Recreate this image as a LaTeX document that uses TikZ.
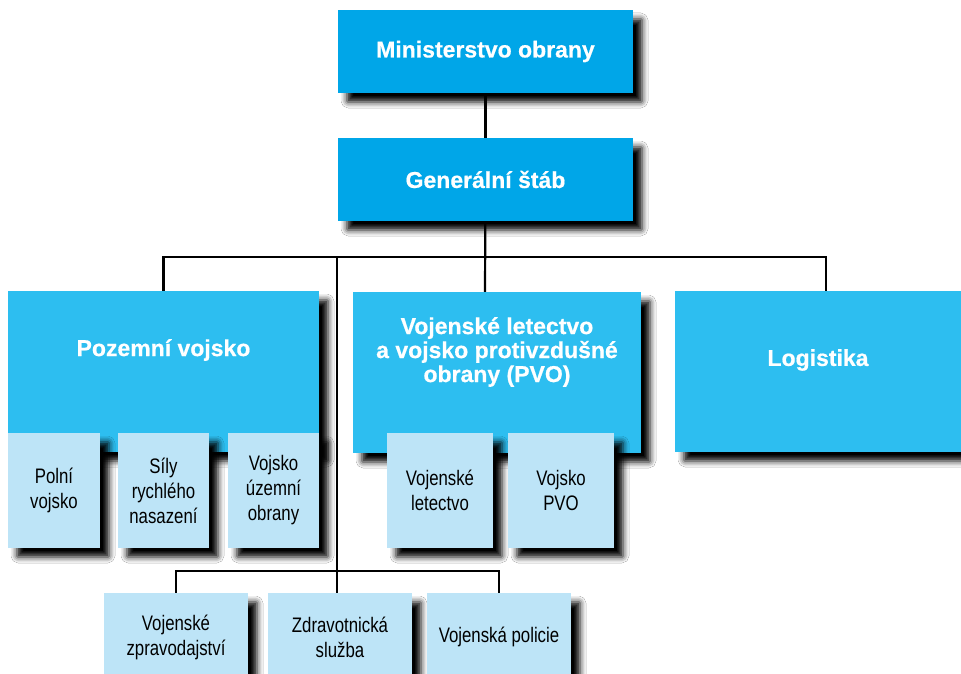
\documentclass[tikz,border=0pt]{standalone}
\usepackage{fontspec}
\setmainfont{Liberation Sans}
\newfontfamily\narrowfont{Liberation Sans}[FakeStretch=0.8]
\newfontfamily\titlefont{Liberation Sans Bold}[FakeBold=0.6]
\usetikzlibrary{shadows.blur}
\definecolor{topblue}{HTML}{00A6E8}
\definecolor{midblue}{HTML}{2DBEF0}
\definecolor{lightblue}{HTML}{BDE4F7}
\tikzset{
 box/.style={rectangle, inner sep=0pt, blur shadow={shadow xshift=9pt, shadow yshift=-9pt, shadow blur radius=6pt, shadow opacity=100, shadow blur extra rounding=1pt}},
 topbox/.style={box, fill=topblue, minimum width=295pt, minimum height=83pt},
 bigbox/.style={box, fill=midblue, minimum height=161pt},
 subbox/.style={box, fill=lightblue, minimum height=115pt, subtext},
 botbox/.style={box, fill=lightblue, minimum height=88pt, minimum width=144pt, subtext},
 title/.style={text=white, font=\titlefont\fontsize{23}{24}\selectfont, align=center},
 subtext/.style={font=\narrowfont\fontsize{21}{25}\selectfont, align=center, text=black},
 link/.style={line width=2.2pt, black}
}
\begin{document}
\begin{tikzpicture}[x=1pt, y=-1pt]
\useasboundingbox[fill=white] (0,0) rectangle (961,674);
% coordinates for the bus lines
\coordinate (bus) at (485,257);
\coordinate (busL) at (337,257);
\coordinate (bus2) at (337,571);
\coordinate (lgtop) at (826,291);
\coordinate (vltop) at (485,292);
% lines (drawn first, behind boxes)
\draw[link] (485.5,51.5) coordinate (mocenter) -- (485.5,179.5) coordinate (gscenter);
\draw[link] (gscenter) -- (vltop);
\draw[link] (163.5,291) coordinate (pztop) |- (bus) -| (lgtop);
\draw[link] (busL) -- (bus2);
\draw[link] (176,593) coordinate (vztop) |- (bus2) -| (499,593) coordinate (vptop);
\draw[link] (bus2) -- (337,593) coordinate (zstop);
% top boxes
\node[topbox, title] (mo) at (mocenter) {Ministerstvo obrany};
\node[topbox, title] (gs) at (gscenter) {Generální štáb};
% big boxes
\node[bigbox, minimum width=311pt] (pz) at (163.5,371.5) {};
\node[title] (pzt) at (163.5,350) {Pozemní vojsko};
\node[bigbox, minimum width=288pt] (vl) at (497,372.5) {};
\node[title] (vlt) at (497,352) {Vojenské letectvo\\a vojsko protivzdušné\\obrany (PVO)};
\node[bigbox, minimum width=286pt] (lg) at (818,371.5) {};
\node[title] (lgt) at (818,360) {Logistika};
% sub boxes
\node[subbox, minimum width=92pt] (pv) at (54,490.5) {Polní\\vojsko};
\node[subbox, minimum width=91pt] (sr) at (163.5,490.5) {Síly\\rychlého\\nasazení};
\node[subbox, minimum width=91pt] (vu) at (273.5,490.5) {Vojsko\\územní\\obrany};
\node[subbox, minimum width=106pt] (vle) at (440,490.5) {Vojenské\\letectvo};
\node[subbox, minimum width=106pt] (pvo) at (561,490.5) {Vojsko\\PVO};
% bottom boxes
\node[botbox] (vz) at (176,637) {Vojenské\\zpravodajství};
\node[botbox] (zs) at (340,637) {Zdravotnická\\služba};
\node[botbox] (vp) at (499,637) {Vojenská policie};
\end{tikzpicture}
\end{document}
